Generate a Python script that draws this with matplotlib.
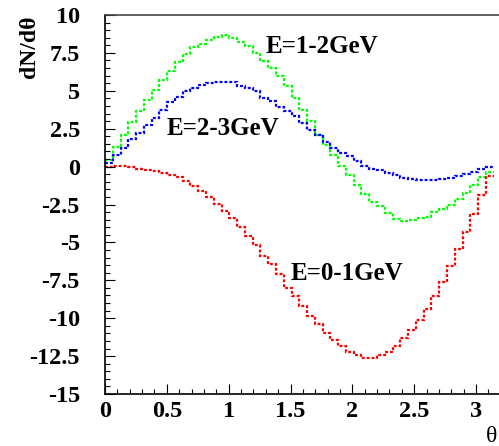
import numpy as np
import matplotlib
matplotlib.use("Agg")
import matplotlib.pyplot as plt
from matplotlib.ticker import MultipleLocator

# --- Data: 50 bins over [0, pi] ---
nbins = 50
theta_max = np.pi

e01 = [0.0, 0.02, 0.02, -0.05, -0.13, -0.2, -0.26, -0.45, -0.55, -0.7,
       -0.95, -1.25, -1.6, -2.0, -2.45, -2.9, -3.4, -4.0, -4.6, -5.15,
       -5.9, -6.45, -7.1, -8.0, -8.55, -9.2, -9.85, -10.4, -10.95, -11.45,
       -11.85, -12.2, -12.45, -12.65, -12.6, -12.45, -12.2, -11.85, -11.3, -10.8,
       -10.1, -9.4, -8.55, -7.6, -6.55, -5.45, -4.3, -3.15, -1.85, -0.65]

e12 = [0.45, 1.27, 2.1, 2.92, 3.7, 4.42, 5.04, 5.74, 6.33, 6.9,
       7.43, 7.9, 8.1, 8.33, 8.55, 8.66, 8.49, 8.2, 7.94, 7.5,
       6.95, 6.51, 5.96, 5.3, 4.53, 3.76, 2.99, 2.11, 1.45, 0.79,
       0.02, -0.53, -1.19, -1.8, -2.35, -2.57, -3.06, -3.43, -3.6, -3.5,
       -3.4, -3.3, -3.0, -2.79, -2.5, -2.13, -1.74, -1.19, -0.68, -0.37]

e23 = [0.24, 0.79, 1.23, 1.83, 2.22, 2.77, 3.21, 3.76, 4.24, 4.6,
       4.97, 5.19, 5.41, 5.52, 5.56, 5.56, 5.56, 5.34, 5.19, 4.97,
       4.53, 4.31, 3.94, 3.65, 3.32, 2.88, 2.44, 2.11, 1.6, 1.23,
       0.9, 0.68, 0.35, 0.02, -0.15, -0.25, -0.42, -0.53, -0.75, -0.83,
       -0.9, -0.88, -0.86, -0.8, -0.72, -0.65, -0.5, -0.35, -0.18, -0.05]

labels = ["E=0-1GeV", "E=1-2GeV", "E=2-3GeV"]
label_pos = [(1.5, -7.5), (1.3, 7.5), (0.5, 2.1)]
colors = ["#ff0000", "#00ff00", "#0000ff"]

edges = np.linspace(0, theta_max, nbins + 1)

plt.rcParams['font.family'] = ['Liberation Serif', 'DejaVu Serif']

fig = plt.figure(figsize=(4.99, 4.46), dpi=100)
ax = fig.add_axes([105/499, 52/446, 402/499, 379/446])

# green and blue first, red on top
for vals, col in zip([e12, e23, e01], [colors[1], colors[2], colors[0]]):
    ax.stairs(vals, edges, baseline=None, color=col, linewidth=1.6,
              linestyle=(0, (1.3, 0.9)))

for lab, (tx, ty) in zip(labels, label_pos):
    ax.text(tx, ty, lab, fontsize=18, fontweight='bold', ha='left', va='baseline')

ax.set_xlim(0, 3.25)
ax.set_ylim(-15, 10)
ax.xaxis.set_major_locator(MultipleLocator(0.5))
ax.xaxis.set_minor_locator(MultipleLocator(0.1))
ax.yaxis.set_major_locator(MultipleLocator(2.5))
ax.yaxis.set_minor_locator(MultipleLocator(0.5))
ax.xaxis.set_major_formatter(plt.FuncFormatter(lambda v, p: f"{v:g}"))
ax.yaxis.set_major_formatter(plt.FuncFormatter(lambda v, p: f"{v:g}"))

ax.tick_params(which='both', direction='in', top=False, right=False, width=0.8)
ax.tick_params(which='major', length=7)
ax.tick_params(which='minor', length=3.5)
ax.tick_params(axis='y', which='major', pad=18, labelsize=17.5)
ax.tick_params(axis='x', which='major', pad=5, labelsize=17.5)
for lab in ax.get_xticklabels() + ax.get_yticklabels():
    lab.set_fontweight('bold')
for sp in ax.spines.values():
    sp.set_linewidth(1.2)
ax.spines['top'].set_color('#444444')

fig.text(30/499, 1 - 16/446, "dN/d\u03b8", rotation=90, ha='center', va='top',
         fontsize=17, fontweight='bold')
fig.text(492/499, 1 - 436/446, "\u03b8", ha='center', va='center', fontsize=17)

fig.savefig("out.png", dpi=100)
